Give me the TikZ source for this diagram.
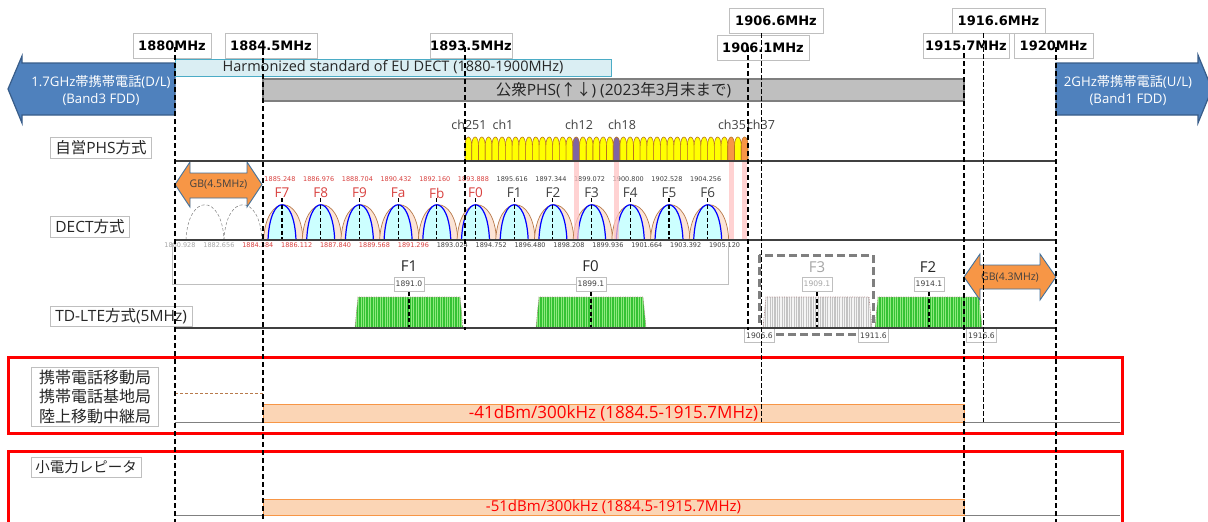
\documentclass[tikz,border=0pt]{standalone}
\usepackage{fontspec}
\setmainfont{Open Sans}
\newfontfamily\jp{Noto Sans CJK JP}
\newfontfamily\dv{DejaVu Sans}
\newcommand{\fsz}[2]{\fontsize{#1}{#2}\selectfont}
\definecolor{ablue}{HTML}{4F81BD}
\definecolor{abluel}{HTML}{385D8A}
\definecolor{eufill}{HTML}{DAEEF3}
\definecolor{euline}{HTML}{4BACC6}
\definecolor{phsfill}{HTML}{BFBFBF}
\definecolor{phsline}{HTML}{7F7F7F}
\definecolor{txt}{HTML}{262626}
\definecolor{dkg}{HTML}{404040}
\definecolor{lblb}{HTML}{BFBFBF}
\definecolor{gbfill}{HTML}{F79646}
\definecolor{gbline}{HTML}{41719C}
\definecolor{chyel}{HTML}{FFFF00}
\definecolor{chbrown}{HTML}{B8721D}
\definecolor{chpurple}{HTML}{8064A2}
\definecolor{chorange}{HTML}{F79646}
\definecolor{pinkst}{HTML}{FFC4C4}
\definecolor{dpeach}{HTML}{FCE4D6}
\definecolor{dbrown}{HTML}{B87A4B}
\definecolor{dcyan}{HTML}{CCFFFF}
\definecolor{dblue}{HTML}{0000FF}
\definecolor{dred}{HTML}{D9413F}
\definecolor{lgrn}{HTML}{34C234}
\definecolor{dgrn}{HTML}{8EEA7E}
\definecolor{lgry}{HTML}{C4C4C4}
\definecolor{dgry}{HTML}{F4F4F4}
\definecolor{ltel}{HTML}{B08888}
\definecolor{pwfill}{HTML}{FBD5B5}
\definecolor{pwline}{HTML}{F79646}
\newcommand{\ltecarrier}[5]{%
  \begin{scope}
    \clip (#1,328) -- (#1+3,297) -- (#2-3,297) -- (#2,328) -- cycle;
    \fill[#3] (#1,296) rectangle (#2,328);
    \foreach \s in {0,...,45}{\draw[#4, line width=#5] (#1+1.2+2.4*\s,296) -- (#1+1.2+2.4*\s,328);}
  \end{scope}
  \draw[ltel, densely dotted, line width=0.7] (#1,328) -- (#1+3,297) -- (#2-3,297) -- (#2,328);
}
\begin{document}
\begin{tikzpicture}[x=1pt,y=-1pt,
  mhz/.style={draw=lblb, fill=white, line width=0.7, inner sep=0, minimum height=25, font=\dv\bfseries\fsz{13}{15}, text=black},
  rowlbl/.style={draw=lblb, fill=white, line width=0.7, inner sep=0, inner xsep=5pt, font=\fsz{15.5}{18}, text=txt},
  vthick/.style={black, line width=1.3, dash pattern=on 5pt off 3pt},
  vthin/.style={black, line width=0.6, dash pattern=on 5pt off 2pt},
  rowline/.style={dkg, line width=1.6},
  lowline/.style={gray, line width=0.9},
  arrowbox/.style={fill=ablue, draw=abluel, line width=1.2},
  gbarrow/.style={fill=gbfill, draw=gbline, line width=0.9},
  dfreq/.style={font=\dv\fsz{6.5}{7}, inner sep=0},
  flab/.style={font=\fsz{13.5}{15}, inner sep=0},
  chl/.style={font=\fsz{12.5}{14}, inner sep=0, text=dkg},
  ltebox/.style={draw=lblb, fill=white, line width=0.6, font=\dv\fsz{7.6}{9}, text=dkg, inner sep=1.5pt, minimum height=14},
  pwbar/.style={fill=pwfill, draw=pwline, line width=1, inner sep=0, text=red},
  redbox/.style={draw=red, line width=3},
  cdash/.style={black, line width=1.1, dash pattern=on 4pt off 2.5pt},
]
\useasboundingbox (0,0) rectangle (1208,522);
\fill[white] (0,0) rectangle (1208,522);

% side arrows
\draw[arrowbox] (175,63) -- (22,63) -- (22,56) -- (8,89) -- (22,123) -- (22,115) -- (175,115) -- cycle;
\node[align=center, text=white, font=\fsz{13.2}{17}, inner sep=0] (lband) at (101,90.5) {1.7GHz{\jp 帯携帯電話}(D/L)\\(Band3 FDD)};
\draw[arrowbox] (1056,63) -- (1198,63) -- (1198,55) -- (1212,89) -- (1198,123) -- (1198,115) -- (1056,115) -- cycle;
\node[align=center, text=white, font=\fsz{13.2}{17}, inner sep=0] (rband) at (1128,90.5) {2GHz{\jp 帯携帯電話}(U/L)\\(Band1 FDD)};

% bars
\node[draw=euline, fill=eufill, line width=1, minimum width=436, minimum height=17, inner sep=0, text=txt, font=\fsz{14.5}{16}] (eubar) at (393,67.5) {Harmonized standard of EU DECT (1880-1900MHz)};
\node[draw=phsline, fill=phsfill, line width=1.5, minimum width=701, minimum height=22, inner sep=0, text=txt, font=\fsz{15.5}{17}] (phsbar) at (613.5,90) {{\jp 公衆}PHS({\jp ↑↓}) (2023{\jp 年}3{\jp 月末まで})};

% MHz labels
\node[mhz, minimum width=94] (m19066) at (776,20.5) {1906.6MHz};
\node[mhz, minimum width=93] (m19166) at (998.5,20.5) {1916.6MHz};
\node[mhz, minimum width=78] (m1880) at (172,45.5) {1880MHz};
\node[mhz, minimum width=92] (m18845) at (271,45.5) {1884.5MHz};
\node[mhz, minimum width=82] (m18935) at (471,45.5) {1893.5MHz};
\node[mhz, minimum width=92] (m19061) at (763,47.5) {1906.1MHz};
\node[mhz, minimum width=86] (m19157) at (966,45.5) {1915.7MHz};
\node[mhz, minimum width=79] (m1920) at (1053.5,45.5) {1920MHz};

% row labels
\node[rowlbl, anchor=west, minimum height=21] (phslbl) at (50,147.5) {{\jp 自営}PHS{\jp 方式}};
\node[rowlbl, anchor=west, minimum height=21] (dectlbl) at (50,226.5) {DECT{\jp 方式}};
\node[rowlbl, anchor=west, minimum height=20] (ltelbl) at (50,316) {TD-LTE{\jp 方式}(5MHz)};

% PHS channels
\foreach \j in {0,...,41}{
  \pgfmathsetmacro{\xa}{465+6.738*\j}
  \pgfmathsetmacro{\xb}{\xa+6.738}
  \ifnum\j=16 \def\bc{chpurple}\else\ifnum\j=22 \def\bc{chpurple}\else\ifnum\j=39 \def\bc{chorange}\else\ifnum\j=41 \def\bc{chorange}\else\def\bc{chyel}\fi\fi\fi\fi
  \path[fill=\bc, draw=chbrown, line width=0.6] (\xa,161) -- (\xa,146) .. controls (\xa,134) and (\xb,134) .. (\xb,146) -- (\xb,161);
}
\node[chl] (ch251) at (469,125) {ch251};
\node[chl] (ch1) at (503,125) {ch1};
\node[chl] (ch12) at (579,125) {ch12};
\node[chl] (ch18) at (622,125) {ch18};
\node[chl] (ch35) at (732,125) {ch35};
\node[chl] (ch37) at (761,125) {ch37};

% DECT carriers
\draw[gray, densely dashed, line width=0.5] (186,240) .. controls (188,193) and (222,193) .. (224,240);
\draw[gray, densely dashed, line width=0.5] (224,240) .. controls (226,193) and (260,193) .. (262,240);
\foreach \i/\lab/\fr/\col in {0/F7/1885.248/dred,1/F8/1886.976/dred,2/F9/1888.704/dred,3/Fa/1890.432/dred,4/Fb/1892.160/dred,5/F0/1893.888/dred,6/F1/1895.616/dkg,7/F2/1897.344/dkg,8/F3/1899.072/dkg,9/F4/1900.800/dkg,10/F5/1902.528/dkg,11/F6/1904.256/dkg}{
  \pgfmathsetmacro{\cx}{282+38.7*\i}
  \path[fill=dpeach, draw=dbrown, line width=0.7] (\cx-18.5,240) .. controls (\cx-16,193) and (\cx+19,193) .. (\cx+21,240);
  \path[fill=dcyan, draw=dblue, line width=1.2] (\cx-14,240) .. controls (\cx-12,193) and (\cx+12,193) .. (\cx+14,240);
  \draw[cdash] (\cx,198) -- (\cx,240);
  \node[flab, text=\col] (dl\i) at (\cx,193) {\lab};
  \node[dfreq, text=\col] (df\i) at (\cx-2,179) {\fr};
}
\foreach \k/\fr/\col in {0/1880.928/gray!70,1/1882.656/gray!70,2/1884.384/dred,3/1886.112/dred,4/1887.840/dred,5/1889.568/dred,6/1891.296/dred,7/1893.024/dkg,8/1894.752/dkg,9/1896.480/dkg,10/1898.208/dkg,11/1899.936/dkg,12/1901.664/dkg,13/1903.392/dkg,14/1905.120/dkg}{
  \node[dfreq, text=\col] (db\k) at (180+38.9*\k,245) {\fr};
}
\fill[pinkst, opacity=0.75] (574,162) rectangle (579,239);
\fill[pinkst, opacity=0.75] (614,162) rectangle (619,239);
\fill[pinkst, opacity=0.75] (729,162) rectangle (734,239);
\fill[pinkst, opacity=0.75] (741.5,162) rectangle (746.5,239);

% GB 4.5
\draw[gbarrow] (175,184.5) -- (190,162) -- (190,173) -- (247,173) -- (247,162) -- (262,184.5) -- (247,207) -- (247,198) -- (190,198) -- (190,207) -- cycle;
\node[font=\fsz{10.5}{12}, text=dkg, inner sep=0] (gb45) at (218.5,185) {GB(4.5MHz)};

% TD-LTE
\draw[lblb, line width=0.8] (172,243) -- (172,284) -- (728,284) -- (728,243);
\node[ltebox] (f1f) at (409,284) {1891.0};
\node[ltebox] (f0f) at (591,284) {1899.1};
\node[font=\fsz{15}{17}, text=txt, inner sep=0] (ltef1) at (409,266) {F1};
\node[font=\fsz{15}{17}, text=txt, inner sep=0] (ltef0) at (590.5,266) {F0};
\ltecarrier{355}{463}{lgrn}{dgrn}{1.0}
\ltecarrier{536}{646}{lgrn}{dgrn}{1.0}
\ltecarrier{763}{872}{lgry}{dgry}{1.2}
\ltecarrier{875}{982}{lgrn}{dgrn}{1.0}
\draw[cdash] (409,292) -- (409,328);
\draw[cdash] (591,292) -- (591,328);
\draw[cdash] (817,292) -- (817,328);
\draw[cdash] (929,292) -- (929,328);
\draw[phsline, line width=3, dash pattern=on 8pt off 4pt] (759,255) rectangle (873,334);
\node[font=\fsz{15}{17}, text=gray!70, inner sep=0] (ltef3) at (817,267) {F3};
\node[ltebox, text=gray!70] (f3f) at (817,284) {1909.1};
\node[font=\fsz{15}{17}, text=txt, inner sep=0] (ltef2) at (928,267) {F2};
\node[ltebox] (f2f) at (929,284) {1914.1};
\node[ltebox] (b19066) at (759.5,335.5) {1906.6};
\node[ltebox] (b19116) at (873.5,335.5) {1911.6};
\node[ltebox] (b19166) at (981.5,335.5) {1916.6};
% GB 4.3
\draw[gbarrow] (964,277) -- (980,254) -- (980,265) -- (1040,265) -- (1040,254) -- (1056,277) -- (1040,300) -- (1040,289) -- (980,289) -- (980,300) -- cycle;
\node[font=\fsz{10.5}{12}, text=dkg, inner sep=0] (gb43) at (1010,278) {GB(4.3MHz)};

% row lines
\draw[rowline] (175,161) -- (1056,161);
\draw[rowline] (175,240) -- (1056,240);
\draw[rowline] (175,328) -- (1056,328);

% lower section
\draw[redbox] (8,357) rectangle (1122,433);
\draw[redbox] (8,451) rectangle (1122,530);
\node[draw=lblb, fill=white, line width=0.7, inner sep=0, align=left, font=\jp\fsz{16}{19.5}, text=txt, minimum width=127, minimum height=59] (moblbl) at (95,396.5) {携帯電話移動局\\携帯電話基地局\\陸上移動中継局};
\node[draw=lblb, fill=white, line width=0.7, inner sep=0, font=\jp\fsz{14.5}{17}, text=txt, minimum width=110, minimum height=20] (replbl) at (86,467.5) {小電力レピータ};
\draw[dbrown, densely dashed, line width=0.5] (175,393) -- (263,393);
\draw[lowline] (175,422) -- (1120,422);
\draw[lowline] (175,515) -- (1120,515);
\node[pwbar, minimum width=701, minimum height=18, font=\fsz{17}{19}] (pw1) at (613.5,413) {-41dBm/300kHz (1884.5-1915.7MHz)};
\node[pwbar, minimum width=701, minimum height=16, font=\fsz{15}{17}] (pw2) at (613.5,507) {-51dBm/300kHz (1884.5-1915.7MHz)};

% vertical guide lines
\draw[vthick] (175,47) -- (175,522);
\draw[vthick] (263,50) -- (263,522);
\draw[vthick] (465,47) -- (465,330);
\draw[vthick] (748,47) -- (748,330);
\draw[vthin] (761,33) -- (761,422);
\draw[vthick] (964,45) -- (964,522);
\draw[vthin] (983,33) -- (983,422);
\draw[vthick] (1056,47) -- (1056,522);
\end{tikzpicture}
\end{document}
